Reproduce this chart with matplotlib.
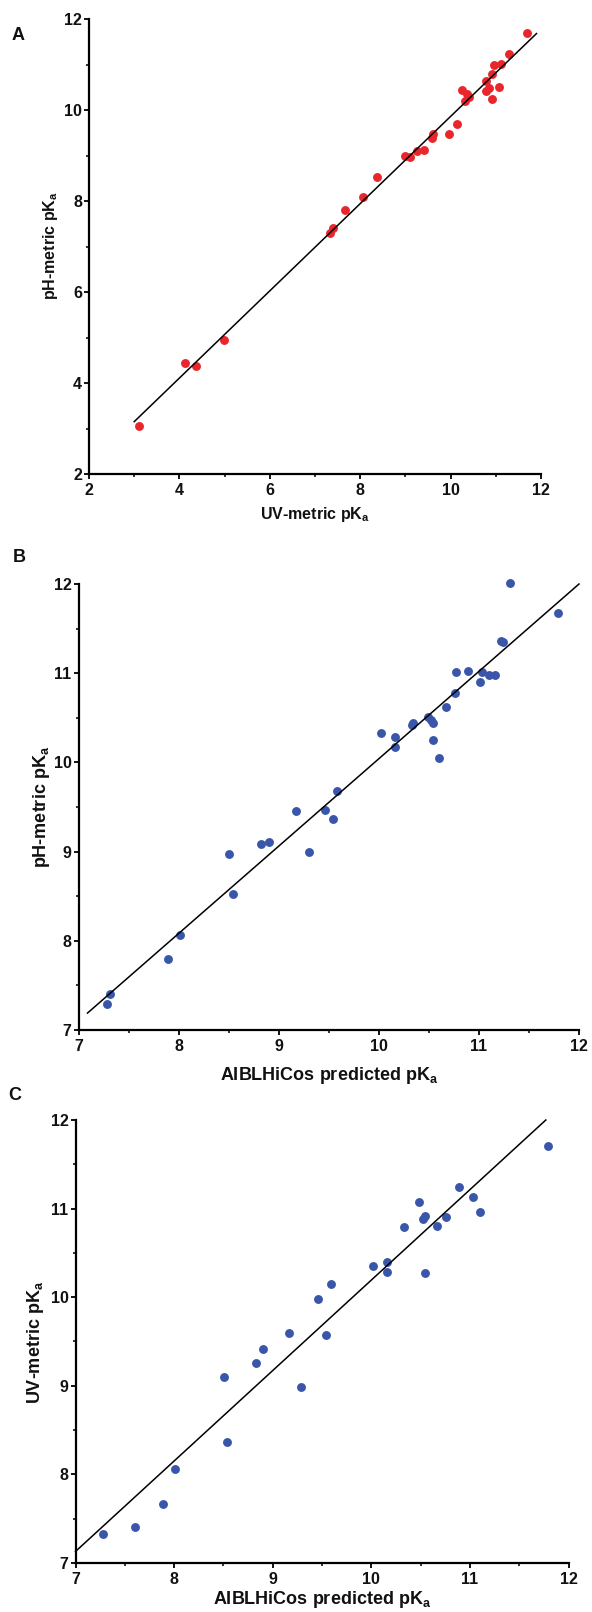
import matplotlib as mpl
mpl.use("Agg")
import matplotlib.pyplot as plt
from matplotlib.ticker import MultipleLocator

W, H = 592, 1612
RED = "#E8262B"
BLUE = "#3A56AA"
INK = "#111111"

# panel A: UV-metric (x) vs pH-metric (y)
uv_a = [3.11, 4.13, 4.37, 4.98, 7.33, 7.40, 7.67, 8.06, 8.37, 8.99, 9.11, 9.26, 9.42, 9.58,
        9.60, 9.97, 10.15, 10.26, 10.31, 10.36, 10.41, 10.78, 10.79, 10.86, 10.91, 10.91,
        10.95, 11.07, 11.12, 11.30, 11.70]
ph_a = [3.06, 4.45, 4.37, 4.94, 7.29, 7.41, 7.81, 8.09, 8.52, 9.00, 8.96, 9.09, 9.12, 9.39,
        9.47, 9.47, 9.69, 10.45, 10.19, 10.36, 10.28, 10.42, 10.64, 10.48, 10.79, 10.25,
        10.99, 10.51, 11.02, 11.24, 11.69]
fit_a_x = [3.0, 11.90]
fit_a_y = [3.15, 11.68]

# panel B: AIBLHiCos predicted (x) vs pH-metric (y)
pred_b = [7.28, 7.31, 7.89, 8.01, 8.50, 8.54, 8.82, 8.90, 9.17, 9.30, 9.46, 9.54, 9.58,
          10.02, 10.16, 10.16, 10.33, 10.34, 10.49, 10.52, 10.54, 10.54, 10.60, 10.67,
          10.76, 10.77, 10.89, 11.01, 11.03, 11.10, 11.16, 11.22, 11.24, 11.31, 11.79]
ph_b = [7.29, 7.40, 7.80, 8.07, 8.97, 8.52, 9.08, 9.11, 9.45, 8.99, 9.47, 9.37, 9.68,
        10.33, 10.29, 10.17, 10.42, 10.44, 10.51, 10.47, 10.44, 10.25, 10.05, 10.62,
        10.78, 11.01, 11.03, 10.90, 11.01, 10.98, 10.98, 11.36, 11.35, 12.01, 11.68]
fit_b_x = [7.09, 12.0]
fit_b_y = [7.19, 12.0]

# panel C: AIBLHiCos predicted (x) vs UV-metric (y)
pred_c = [7.28, 7.60, 7.89, 8.01, 8.51, 8.54, 8.83, 8.90, 9.17, 9.29, 9.46, 9.54, 9.59,
          10.02, 10.16, 10.16, 10.33, 10.48, 10.52, 10.54, 10.54, 10.67, 10.76, 10.89,
          11.03, 11.10, 11.79]
uv_c = [7.33, 7.41, 7.67, 8.06, 9.10, 8.37, 9.26, 9.42, 9.60, 8.99, 9.98, 9.57, 10.15,
        10.35, 10.40, 10.28, 10.79, 11.08, 10.88, 10.92, 10.27, 10.80, 10.91, 11.24,
        11.13, 10.96, 11.71]
fit_c_x = [7.0, 11.77]
fit_c_y = [7.13, 12.0]

PK = r"pK$_\mathbf{a}$"


def apply_style() -> None:
    mpl.rcParams.update(
        {
            "font.family": "Liberation Sans",
            "font.weight": "bold",
            "mathtext.fontset": "custom",
            "mathtext.rm": "Liberation Sans",
            "mathtext.bf": "Liberation Sans:bold",
            "axes.spines.top": False,
            "axes.spines.right": False,
            "axes.linewidth": 1.6,
            "xtick.color": INK,
            "ytick.color": INK,
        }
    )


def px_axes(fig, left, top, right, bottom):
    return fig.add_axes([left / W, 1 - bottom / H, (right - left) / W, (bottom - top) / H])


def style_axes(ax, lo, hi, major, minor):
    ax.set_xlim(lo, hi)
    ax.set_ylim(lo, hi)
    for axis in (ax.xaxis, ax.yaxis):
        axis.set_major_locator(MultipleLocator(major))
        axis.set_minor_locator(MultipleLocator(minor))
    ax.tick_params(which="major", direction="out", length=3.5, width=1.4, labelsize=11.5)
    ax.tick_params(which="minor", direction="out", length=2, width=1.2)
    ax.tick_params(axis="x", pad=3)
    ax.tick_params(axis="y", pad=1.5)
    for lab in ax.get_xticklabels() + ax.get_yticklabels():
        lab.set_fontweight("bold")


def panel(fig, box, x, y, fit_x, fit_y, color, lims, major, minor):
    ax = px_axes(fig, *box)
    ax.plot(x, y, "o", color=color, markersize=6.4, markeredgewidth=0, clip_on=False, zorder=2)
    ax.plot(fit_x, fit_y, color="black", linewidth=1.1, clip_on=False, zorder=3)
    style_axes(ax, lims[0], lims[1], major, minor)
    return ax


def label(fig, px, py, text, rot=0, size=12):
    fig.text(px / W, 1 - py / H, text, rotation=rot, ha="center", va="center",
             fontsize=size, fontweight="bold", color=INK)


def main() -> None:
    apply_style()
    fig = plt.figure(figsize=(W / 100, H / 100), dpi=100)

    panel(fig, (89, 19, 541, 474), uv_a, ph_a, fit_a_x, fit_a_y, RED, (2, 12), 2, 1)
    panel(fig, (78.5, 584, 579, 1030), pred_b, ph_b, fit_b_x, fit_b_y, BLUE, (7, 12), 1, 0.5)
    panel(fig, (75.5, 1120, 568.5, 1563), pred_c, uv_c, fit_c_x, fit_c_y, BLUE, (7, 12), 1, 0.5)

    label(fig, 18, 36, "A", size=13)
    label(fig, 19, 558, "B", size=13)
    label(fig, 15, 1096, "C", size=13)

    label(fig, 315, 515, "UV-metric " + PK, size=11.5)
    label(fig, 50, 246, "pH-metric " + PK, rot=90, size=11.5)
    label(fig, 329, 1075, "AIBLHiCos predicted " + PK, size=13)
    label(fig, 41, 807, "pH-metric " + PK, rot=90, size=13)
    label(fig, 322, 1600, "AIBLHiCos predicted " + PK, size=13)
    label(fig, 36, 1342, "UV-metric " + PK, rot=90, size=13)

    fig.savefig("out.png", dpi=100)
    plt.close(fig)


if __name__ == "__main__":
    main()
